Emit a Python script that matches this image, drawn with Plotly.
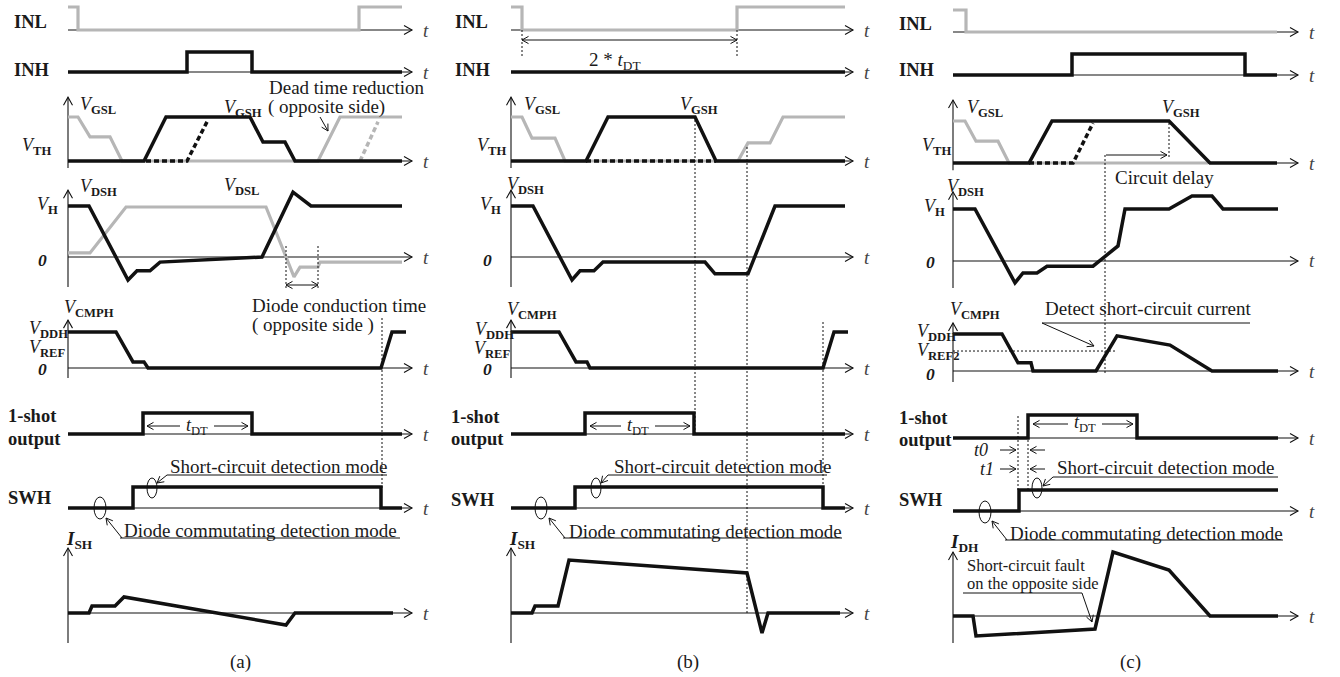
import math
import plotly.graph_objects as go

W, H = 1340, 677
FONT = "Liberation Serif"
BLACK = "#111111"
GRAY = "#b6b6b6"
TXT = "#1a1a1a"

# ---------------- waveform data: time (a.u.) and level (a.u.) ----------------
# Panel (a)
a_inl_t = [0, 10, 10, 291, 291, 334]
a_inl_v = [1, 1, 0, 0, 1, 1]
a_inh_t = [0, 119, 119, 184, 184, 334]
a_inh_v = [0, 0, 1, 1, 0, 0]
a_vgsl_t = [0, 10, 22, 42, 54, 250, 272, 334]
a_vgsl_v = [1, 1, 0.55, 0.55, 0, 0, 1, 1]
a_vgsl_alt_t = [292, 310]
a_vgsl_alt_v = [0, 0.89]
a_vgsh_t = [0, 76, 98, 182, 195, 217, 227, 334]
a_vgsh_v = [0, 0, 1, 1, 0.43, 0.43, 0, 0]
a_vgsh_alt_t = [78, 119, 139]
a_vgsh_alt_v = [0, 0, 0.89]
a_vdsh_t = [0, 21, 60, 69, 82, 92, 194, 225, 243, 334]
a_vdsh_v = [1, 1, -0.45, -0.27, -0.27, -0.1, 0, 1.27, 1, 1]
a_vdsl_t = [0, 22, 58, 198, 226, 232, 250, 252, 334]
a_vdsl_v = [0.08, 0.08, 0.98, 0.98, -0.39, -0.2, -0.2, -0.1, -0.1]
a_cmph_t = [0, 48, 65, 76, 80, 313, 324, 338]
a_cmph_v = [1, 1, 0.17, 0.17, 0, 0, 1, 1]
a_shot_t = [0, 75, 75, 184, 184, 334]
a_shot_v = [0, 0, 1, 1, 0, 0]
a_swh_t = [0, 65, 65, 313, 313, 334]
a_swh_v = [0, 0, 1, 1, 0, 0]
a_ish_t = [0, 21, 24, 47, 56, 218, 227, 325]
a_ish_v = [0, 0, 0.14, 0.14, 0.32, -0.24, 0, 0]

# Panel (b)
b_inl_t = [0, 11, 11, 226, 226, 334]
b_inl_v = [1, 1, 0, 0, 1, 1]
b_inh_t = [0, 334]
b_inh_v = [0, 0]
b_vgsl_t = [0, 11, 21, 44, 54, 227, 237, 259, 272, 334]
b_vgsl_v = [1, 1, 0.52, 0.52, 0, 0, 0.41, 0.41, 1, 1]
b_vgsh_t = [0, 75, 97, 184, 205, 334]
b_vgsh_v = [0, 0, 1, 1, 0, 0]
b_vgsh_alt_t = [75, 205]
b_vgsh_alt_v = [0, 0]
b_vdsh_t = [0, 22, 61, 69, 83, 92, 194, 204, 237, 264, 334]
b_vdsh_v = [1, 1, -0.45, -0.27, -0.27, -0.1, -0.1, -0.33, -0.33, 1, 1]
b_cmph_t = [0, 48, 65, 76, 79, 312, 323, 337]
b_cmph_v = [1, 1, 0.17, 0.17, 0, 0, 1, 1]
b_shot_t = [0, 74, 74, 183, 183, 334]
b_shot_v = [0, 0, 1, 1, 0, 0]
b_swh_t = [0, 64, 64, 312, 312, 334]
b_swh_v = [0, 0, 1, 1, 0, 0]
b_ish_t = [0, 21, 24, 47, 58, 236, 251, 257, 329]
b_ish_v = [0, 0, 0.14, 0.14, 1.06, 0.8, -0.4, 0, 0]

# Panel (c)
c_inl_t = [0, 13, 13, 324]
c_inl_v = [1, 1, 0, 0]
c_inh_t = [0, 119, 119, 292, 292, 324]
c_inh_v = [0, 0, 1, 1, 0, 0]
c_vgsl_t = [0, 12, 23, 45, 56, 255]
c_vgsl_v = [1, 1, 0.52, 0.52, 0, 0]
c_vgsh_t = [0, 76, 99, 216, 257, 324]
c_vgsh_v = [0, 0, 1, 1, 0, 0]
c_vgsh_alt_t = [76, 120, 140]
c_vgsh_alt_v = [0, 0, 0.95]
c_vdsh_t = [0, 22, 62, 70, 84, 94, 140, 165, 172, 216, 239, 259, 270, 325]
c_vdsh_v = [1, 1, -0.42, -0.23, -0.23, -0.1, -0.1, 0.29, 1, 1, 1.25, 1.25, 1, 1]
c_cmph_t = [0, 49, 65, 78, 80, 143, 164, 217, 259, 325]
c_cmph_v = [1, 1, 0.22, 0.22, 0, 0, 0.95, 0.7, 0, 0]
c_vref2_t = [0, 164]
c_vref2_v = [0.54, 0.54]
c_shot_t = [0, 75, 75, 184, 184, 325]
c_shot_v = [0, 0, 1, 1, 0, 0]
c_swh_t = [0, 66, 66, 325]
c_swh_v = [0, 0, 1, 1]
c_idh_t = [0, 20, 23, 142, 160, 216, 257, 325]
c_idh_v = [0, 0, -0.4, -0.26, 1.28, 0.92, 0, 0]

# ---------------- layout geometry (pixels) ----------------
# per panel: x origin, axis length; per row: baseline px, px per unit, band top, band bottom
PANELS = [
    dict(x0=68, tip=344, rows=[(30, 23, 0, 40), (72, 20, 42, 84), (161, 44, 88, 176),
                               (257, 51, 180, 296), (368, 36, 312, 388), (434, 21, 400, 446),
                               (508, 21, 478, 520), (613, 50, 540, 650)]),
    dict(x0=511, tip=342, rows=[(30, 23, 0, 40), (72, 20, 42, 84), (161, 44, 88, 176),
                                (257, 51, 180, 296), (368, 36, 312, 388), (434, 21, 400, 446),
                                (508, 21, 478, 520), (613, 50, 540, 650)]),
    dict(x0=953, tip=345, rows=[(32, 22, 0, 42), (75, 21, 44, 86), (163, 42, 90, 178),
                                (261, 52, 182, 298), (371, 37, 314, 390), (438, 23, 402, 450),
                                (511, 21, 480, 524), (616, 50, 542, 652)]),
]
# vertical (level) axes: row index -> (bottom, top) in units
VAXES = [
    {2: (-0.16, 1.45), 3: (-0.59, 1.31), 4: (-0.28, 1.33), 7: (-0.6, 1.3)},
    {2: (-0.16, 1.45), 3: (-0.59, 1.31), 4: (-0.28, 1.33), 7: (-0.6, 1.3)},
    {2: (-0.17, 1.5), 3: (-0.52, 1.33), 4: (-0.3, 1.3), 7: (-0.54, 1.28)},
]

SOLID, THIN_DOT, THICK_DOT = "solid", "2px,2px", "5px,3px"
# (panel, row, t, v, color, width, dash)
WAVES = [
    (0, 0, a_inl_t, a_inl_v, GRAY, 3.2, SOLID),
    (0, 1, a_inh_t, a_inh_v, BLACK, 3.5, SOLID),
    (0, 2, a_vgsl_t, a_vgsl_v, GRAY, 3.2, SOLID),
    (0, 2, a_vgsl_alt_t, a_vgsl_alt_v, GRAY, 3.5, THICK_DOT),
    (0, 2, a_vgsh_t, a_vgsh_v, BLACK, 3.5, SOLID),
    (0, 2, a_vgsh_alt_t, a_vgsh_alt_v, BLACK, 3.5, THICK_DOT),
    (0, 3, a_vdsl_t, a_vdsl_v, GRAY, 3.2, SOLID),
    (0, 3, a_vdsh_t, a_vdsh_v, BLACK, 3.5, SOLID),
    (0, 4, a_cmph_t, a_cmph_v, BLACK, 3.5, SOLID),
    (0, 5, a_shot_t, a_shot_v, BLACK, 3.5, SOLID),
    (0, 6, a_swh_t, a_swh_v, BLACK, 3.5, SOLID),
    (0, 7, a_ish_t, a_ish_v, BLACK, 3.5, SOLID),
    (1, 0, b_inl_t, b_inl_v, GRAY, 3.2, SOLID),
    (1, 1, b_inh_t, b_inh_v, BLACK, 3.5, SOLID),
    (1, 2, b_vgsl_t, b_vgsl_v, GRAY, 3.2, SOLID),
    (1, 2, b_vgsh_t, b_vgsh_v, BLACK, 3.5, SOLID),
    (1, 2, b_vgsh_alt_t, b_vgsh_alt_v, BLACK, 3.5, THICK_DOT),
    (1, 3, b_vdsh_t, b_vdsh_v, BLACK, 3.5, SOLID),
    (1, 4, b_cmph_t, b_cmph_v, BLACK, 3.5, SOLID),
    (1, 5, b_shot_t, b_shot_v, BLACK, 3.5, SOLID),
    (1, 6, b_swh_t, b_swh_v, BLACK, 3.5, SOLID),
    (1, 7, b_ish_t, b_ish_v, BLACK, 3.5, SOLID),
    (2, 0, c_inl_t, c_inl_v, GRAY, 3.2, SOLID),
    (2, 1, c_inh_t, c_inh_v, BLACK, 3.5, SOLID),
    (2, 2, c_vgsl_t, c_vgsl_v, GRAY, 3.2, SOLID),
    (2, 2, c_vgsh_t, c_vgsh_v, BLACK, 3.5, SOLID),
    (2, 2, c_vgsh_alt_t, c_vgsh_alt_v, BLACK, 3.5, THICK_DOT),
    (2, 3, c_vdsh_t, c_vdsh_v, BLACK, 3.5, SOLID),
    (2, 4, c_vref2_t, c_vref2_v, BLACK, 1.0, THIN_DOT),
    (2, 4, c_cmph_t, c_cmph_v, BLACK, 3.5, SOLID),
    (2, 5, c_shot_t, c_shot_v, BLACK, 3.5, SOLID),
    (2, 6, c_swh_t, c_swh_v, BLACK, 3.5, SOLID),
    (2, 7, c_idh_t, c_idh_v, BLACK, 3.5, SOLID),
]

fig = go.Figure()
shapes, annos = [], []
lay = {}


def xid(pi):
    return "x" if pi == 0 else f"x{pi + 1}"


def yid(pi, ri):
    n = pi * 8 + ri + 1
    return "y" if n == 1 else f"y{n}"


def axkey(ref):
    return ref[0] + "axis" + ref[1:]


def P(x, y):
    return x / W, 1 - y / H


def chevron(hx, hy, dx, dy, L=7.0, w=4.0, width=1.1):
    n = math.hypot(dx, dy)
    dx, dy = dx / n, dy / n
    bx, by = hx - L * dx, hy - L * dy
    nx, ny = -dy, dx
    p1 = P(bx + w * nx, by + w * ny)
    p2 = P(bx - w * nx, by - w * ny)
    h = P(hx, hy)
    shapes.append(dict(type="path", xref="paper", yref="paper",
                       path=f"M{p1[0]},{p1[1]} L{h[0]},{h[1]} L{p2[0]},{p2[1]}",
                       line=dict(color=BLACK, width=width), fillcolor="rgba(0,0,0,0)"))


def line(x0, y0, x1, y1, width=1.0, dash="solid"):
    a, b = P(x0, y0), P(x1, y1)
    shapes.append(dict(type="line", xref="paper", yref="paper", x0=a[0], y0=a[1], x1=b[0], y1=b[1],
                       line=dict(color=BLACK, width=width, dash=dash)))


def arrow(tx, ty, hx, hy, both=False):
    line(tx, ty, hx, hy)
    chevron(hx, hy, hx - tx, hy - ty, L=6.5, w=3.6, width=1.0)
    if both:
        chevron(tx, ty, tx - hx, ty - hy, L=6.5, w=3.6, width=1.0)


PAD = 14
for pi, Pn in enumerate(PANELS):
    lay[axkey(xid(pi))] = dict(domain=[(Pn["x0"] - PAD) / W, (Pn["x0"] + Pn["tip"] + PAD) / W],
                               range=[-PAD, Pn["tip"] + PAD], visible=False, fixedrange=True)
    for ri, (base, s, top, bot) in enumerate(Pn["rows"]):
        lay[axkey(yid(pi, ri))] = dict(domain=[1 - bot / H, 1 - top / H],
                                       range=[(base - bot) / s, (base - top) / s],
                                       visible=False, fixedrange=True, anchor=xid(pi))
        # time axis
        shapes.append(dict(type="line", xref=xid(pi), yref=yid(pi, ri), x0=0, x1=Pn["tip"], y0=0, y1=0,
                           line=dict(color=BLACK, width=1.1), layer="below"))
        chevron(Pn["x0"] + Pn["tip"], base, 1, 0, L=8, w=4.5)
        annos.append(dict(xref=xid(pi), yref=yid(pi, ri), x=Pn["tip"] + 14, y=0, text="<i>t</i>",
                          showarrow=False, font=dict(family=FONT, size=19, color="#444")))
        if ri in VAXES[pi]:
            vb, vt = VAXES[pi][ri]
            shapes.append(dict(type="line", xref=xid(pi), yref=yid(pi, ri), x0=0, x1=0, y0=vb, y1=vt,
                               line=dict(color=BLACK, width=1.1), layer="below"))
            chevron(Pn["x0"], base - vt * s, 0, -1, L=8, w=4.5)

for pi, ri, t, v, col, w, dash in WAVES:
    fig.add_trace(go.Scatter(x=t, y=v, xaxis=xid(pi), yaxis=yid(pi, ri), mode="lines",
                             line=dict(color=col, width=w, dash=dash), hoverinfo="skip", showlegend=False))

# dotted time markers: (panel, t, y_top_px, y_bottom_px)
MARKERS = [(0, 218, 245, 288), (0, 250, 245, 288), (0, 314, 318, 488),
           (1, 11, 30, 56), (1, 226, 30, 56), (1, 184, 120, 434), (1, 236, 147, 613), (1, 312, 320, 488),
           (2, 216, 121, 157), (2, 152, 155, 373), (2, 65, 415, 490), (2, 75, 438, 490)]
for pi, t, ytop, ybot in MARKERS:
    shapes.append(dict(type="line", xref=xid(pi), yref="paper", x0=t, x1=t, y0=1 - ybot / H, y1=1 - ytop / H,
                       line=dict(color=BLACK, width=1, dash=THIN_DOT)))


def hline(x0, x1, y):
    line(x0, y, x1, y)


def ellipse(cx, cy, rx, ry):
    shapes.append(dict(type="circle", xref="paper", yref="paper", x0=(cx - rx) / W, x1=(cx + rx) / W,
                       y0=1 - (cy + ry) / H, y1=1 - (cy - ry) / H, line=dict(color=BLACK, width=1)))


def text(x, y, s, size=19, anchor="left"):
    px, py = P(x, y)
    annos.append(dict(xref="paper", yref="paper", x=px, y=py, text=s, showarrow=False, xanchor=anchor,
                      yanchor="middle", font=dict(family=FONT, size=size, color=TXT)))


# double arrows
arrow(286, 285, 318, 285, both=True)
arrow(522, 40, 737, 40, both=True)
# t_DT arrows (split around the label)
for cx, y, left, right in [(197, 426, 147, 248), (638, 426, 590, 690), (1085, 424, 1033, 1133)]:
    arrow(cx - 17, y, left, y)
    arrow(cx + 17, y, right, y)
# pointer arrows
arrow(320, 117, 328, 131)
arrow(167, 475, 157, 483)
arrow(122, 538, 106, 518)
arrow(608, 475, 601, 483)
arrow(565, 538, 549, 518)
arrow(1053, 477, 1043, 486)
arrow(1007, 540, 992, 521)
arrow(1106, 155, 1167, 155)
arrow(1042, 323, 1094, 346)
arrow(1082, 593, 1092, 622)
arrow(1000, 450, 1016, 450)
arrow(1045, 450, 1030, 450)
arrow(1000, 469, 1016, 469)
arrow(1045, 469, 1030, 469)
# underlines
hline(167, 387, 475)
hline(120, 400, 538)
hline(608, 827, 475)
hline(563, 842, 538)
hline(1053, 1278, 477)
hline(1005, 1283, 540)
hline(1042, 1250, 323)
hline(963, 1082, 593)
# mode ellipses
ellipse(152, 488, 5, 10)
ellipse(100, 508, 6, 11)
ellipse(596, 488, 5, 10)
ellipse(541, 508, 6, 11)
ellipse(1037, 488, 5, 10)
ellipse(985, 512, 6, 11)


def V(sub):
    return f"<i>V</i><sub><b>{sub}</b></sub>"


ZERO = "<b><i>0</i></b>"
# signal names
for x, y, s in [(12, 22, "INL"), (12, 70, "INH"), (6, 416, "1-shot"), (6, 439, "output"), (6, 498, "SWH"),
                (453, 22, "INL"), (453, 70, "INH"), (449, 417, "1-shot"), (449, 439, "output"), (449, 500, "SWH"),
                (897, 24, "INL"), (897, 70, "INH"), (897, 418, "1-shot"), (897, 440, "output"), (897, 500, "SWH")]:
    text(x, y, f"<b>{s}</b>", size=18.5)

for x, y, s in [(78, 106, V("GSL")), (20, 146, V("TH")), (222, 108, V("GSH")), (78, 187, V("DSH")),
                (222, 186, V("DSL")), (35, 206, V("H")), (62, 309, V("CMPH")), (27, 329, V("DDH")),
                (27, 348, V("REF")),
                (522, 106, V("GSL")), (475, 146, V("TH")), (678, 106, V("GSH")), (505, 185, V("DSH")),
                (478, 206, V("H")), (505, 310, V("CMPH")), (473, 330, V("DDH")), (472, 349, V("REF")),
                (965, 108, V("GSL")), (920, 147, V("TH")), (1160, 108, V("GSH")), (945, 187, V("DSH")),
                (922, 208, V("H")), (948, 311, V("CMPH")), (915, 332, V("DDH")), (915, 351, V("REF2"))]:
    text(x, y, s, size=18)

for x, y in [(42, 260), (42, 369), (487, 260), (487, 369), (930, 262), (930, 374)]:
    text(x, y, ZERO, size=17.5, anchor="center")

text(64, 540, "<b><i>I</i></b><sub><b>SH</b></sub>", size=19)
text(507, 540, "<b><i>I</i></b><sub><b>SH</b></sub>", size=19)
text(948, 543, "<b><i>I</i></b><sub><b>DH</b></sub>", size=19)

# descriptive texts
text(267, 87, "Dead time reduction")
text(266, 107, "( opposite side)")
text(250, 305, "Diode conduction time")
text(250, 325, "( opposite side )")
text(168, 466, "Short-circuit detection mode")
text(122, 530, "Diode commutating detection mode")
text(587, 61, "2 * <i>t</i><sub>DT</sub>")
text(612, 466, "Short-circuit detection mode")
text(567, 531, "Diode commutating detection mode")
text(1113, 177, "Circuit delay")
text(1043, 308, "Detect short-circuit current")
text(972, 450, "<i>t0</i>", size=18)
text(978, 469, "<i>t1</i>", size=18)
text(1055, 468, "Short-circuit detection mode")
text(1008, 533, "Diode commutating detection mode")
text(965, 565, "Short-circuit fault", size=16.5)
text(965, 583, "on the opposite side", size=16.5)
for x, y in [(197, 426), (638, 426), (1085, 424)]:
    text(x, y, "<i>t</i><sub>DT</sub>", size=18, anchor="center")
for x, s in [(240, "(a)"), (688, "(b)"), (1130, "(c)")]:
    text(x, 662, s, size=19, anchor="center")

fig.update_layout(width=W, height=H, autosize=False, margin=dict(l=0, r=0, t=0, b=0),
                  paper_bgcolor="white", plot_bgcolor="rgba(0,0,0,0)", showlegend=False,
                  shapes=shapes, annotations=annos, **lay)
fig.write_html("out.html", config={"displayModeBar": False, "staticPlot": True})
